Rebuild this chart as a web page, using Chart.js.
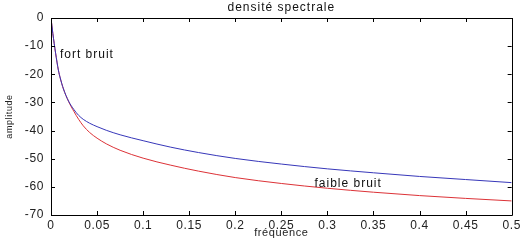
<!DOCTYPE html>
<html>
<head>
<meta charset="utf-8">
<script src="https://cdn.jsdelivr.net/npm/chart.js@4/dist/chart.umd.min.js"></script>
<style>
  html, body { margin: 0; padding: 0; background: #fff; }
  #wrap { width: 523px; height: 241px; }
</style>
</head>
<body>
<div id="wrap"><canvas id="myChart" width="523" height="241"></canvas></div>
<script>
// frequencies
var freqs = [0, 0.002, 0.005, 0.008, 0.01, 0.0135, 0.019, 0.025, 0.03, 0.035, 0.042, 0.05,
    0.06, 0.075, 0.1, 0.13, 0.16, 0.2, 0.25, 0.3, 0.35, 0.4, 0.45, 0.5];
// blue curve
var fortBruit = [0, -5.5, -12.5, -18.5, -21.3, -25.2, -29.5, -32.6, -34.6, -36, -37.4, -38.6,
    -39.9, -41.5, -43.6, -45.9, -47.8, -49.9, -51.9, -53.6, -55, -56.3, -57.4, -58.5];
// red curve
var faibleBruit = [0, -5.5, -12.5, -18.5, -21.3, -25.2, -29.6, -33.3, -36, -38.3, -40.7, -42.7,
    -44.7, -47, -49.8, -52.3, -54.4, -56.7, -58.8, -60.5, -61.9, -63.1, -64.1, -65];
var xTicks = [0, 0.05, 0.1, 0.15, 0.2, 0.25, 0.3, 0.35, 0.4, 0.45, 0.5];
var yTicks = [0, -10, -20, -30, -40, -50, -60, -70];
var notes = [
    { text: 'fort bruit', x: 0.0097, y: -13.1 },
    { text: 'faible bruit', x: 0.286, y: -59 }
];

function toPoints(values) {
    return freqs.map(function (f, i) { return { x: f, y: values[i] }; });
}

var FONT = '"Liberation Sans", Arial, sans-serif';

// wider letters, like the old matlab screen font
var spacing = {
    id: 'spacing',
    beforeDraw: function (chart) { chart.ctx.letterSpacing = '0.6px'; }
};

// matlab style box, inward ticks, title and text labels
var matlabBox = {
    id: 'matlabBox',
    afterDraw: function (chart) {
        var ctx = chart.ctx;
        var a = chart.chartArea;
        var xs = chart.scales.x, ys = chart.scales.y;
        var tl = 4;
        ctx.save();
        ctx.strokeStyle = '#000';
        ctx.lineWidth = 1;
        ctx.beginPath();
        ctx.rect(Math.round(a.left) + 0.5, Math.round(a.top) + 0.5,
            Math.round(a.right - a.left), Math.round(a.bottom - a.top));
        xTicks.forEach(function (v) {
            var px = Math.round(xs.getPixelForValue(v)) + 0.5;
            ctx.moveTo(px, a.bottom); ctx.lineTo(px, a.bottom - tl);
            ctx.moveTo(px, a.top); ctx.lineTo(px, a.top + tl);
        });
        yTicks.forEach(function (v) {
            var py = Math.round(ys.getPixelForValue(v)) + 0.5;
            ctx.moveTo(a.left, py); ctx.lineTo(a.left + tl, py);
            ctx.moveTo(a.right, py); ctx.lineTo(a.right - tl, py);
        });
        ctx.stroke();

        ctx.fillStyle = '#111';
        ctx.font = '12px ' + FONT;
        ctx.letterSpacing = '1px';
        ctx.textBaseline = 'middle';
        ctx.textAlign = 'center';
        ctx.fillText('densité spectrale', (a.left + a.right) / 2, 8);
        ctx.textAlign = 'left';
        notes.forEach(function (n) {
            ctx.fillText(n.text, xs.getPixelForValue(n.x), ys.getPixelForValue(n.y));
        });
        ctx.restore();
    }
};

var ctx = document.getElementById('myChart').getContext('2d');
var chart = new Chart(ctx, {
    type: 'line',
    data: {
        datasets: [{
            label: 'fort bruit',
            data: toPoints(fortBruit),
            borderColor: 'rgb(55, 55, 185)',
            borderWidth: 1,
            pointRadius: 0,
            cubicInterpolationMode: 'monotone',
            fill: false
        }, {
            label: 'faible bruit',
            data: toPoints(faibleBruit),
            borderColor: 'rgb(220, 50, 55)',
            borderWidth: 1,
            pointRadius: 0,
            cubicInterpolationMode: 'monotone',
            fill: false
        }]
    },
    options: {
        responsive: false,
        animation: false,
        events: [],
        layout: { padding: { left: 0, top: 18, right: 10, bottom: 0 } },
        plugins: {
            legend: { display: false },
            tooltip: { enabled: false }
        },
        scales: {
            x: {
                type: 'linear',
                min: 0,
                max: 0.5,
                afterFit: function (s) { s.height = 26; },
                afterBuildTicks: function (s) {
                    s.ticks = xTicks.map(function (v) { return { value: v }; });
                },
                grid: { display: false, drawTicks: false },
                border: { display: false },
                ticks: {
                    padding: 3,
                    color: '#222',
                    font: { family: FONT, size: 12 },
                    maxRotation: 0,
                    autoSkip: false,
                    callback: function (v) { return String(v); }
                },
                title: {
                    display: true,
                    text: 'fréquence',
                    color: '#222',
                    font: { family: FONT, size: 11 },
                    padding: { top: 0, bottom: 1 }
                }
            },
            y: {
                type: 'linear',
                min: -70,
                max: 0,
                afterFit: function (s) { s.width = 51; },
                afterBuildTicks: function (s) {
                    s.ticks = yTicks.map(function (v) { return { value: v }; });
                },
                grid: { display: false, drawTicks: false },
                border: { display: false },
                ticks: {
                    padding: 7,
                    color: '#222',
                    font: { family: FONT, size: 12 },
                    autoSkip: false
                },
                title: {
                    display: true,
                    text: 'amplitude',
                    color: '#222',
                    font: { family: FONT, size: 9 },
                    padding: { top: 4, bottom: 0 }
                }
            }
        }
    },
    plugins: [spacing, matlabBox]
});
</script>
</body>
</html>
